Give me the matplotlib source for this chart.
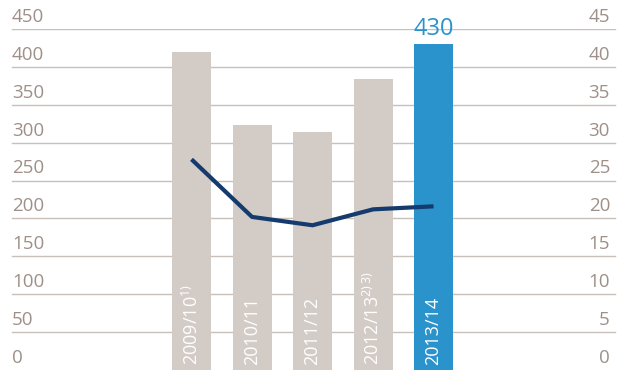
import matplotlib
matplotlib.use("Agg")
import matplotlib.pyplot as plt

plt.rcParams['font.family'] = ['Open Sans', 'DejaVu Sans']
plt.rcParams['mathtext.default'] = 'regular'

# data
years = ["2009/10$^{1)}$", "2010/11", "2011/12", "2012/13$^{2)\\,3)}$", "2013/14"]
bar_values = [420, 323, 314, 384, 430]
line_values = [27.8, 20.2, 19.1, 21.2, 21.6]
left_ticks = [0, 50, 100, 150, 200, 250, 300, 350, 400, 450]
right_ticks = [0, 5, 10, 15, 20, 25, 30, 35, 40, 45]

grey = '#d3cbc6'
blue = '#2a93cc'
navy = '#143a6e'
label_col = '#9e9088'
grid_col = '#c9c0ba'

fig = plt.figure(figsize=(6.26, 3.71), dpi=100)
ax = fig.add_axes([0, 1 / 371, 1, 341 / 371])
ax.set_xlim(-3.165, 7.18)
ax.set_ylim(0, 450)
ax.axis('off')

# gridlines + tick labels on both sides
for v, r in zip(left_ticks, right_ticks):
    if v > 0:
        ax.axhline(v, xmin=12 / 626, xmax=615 / 626, color=grid_col, lw=1, zorder=1)
    ax.text(12 / 626, v + 16, str(v), transform=ax.get_yaxis_transform(),
            ha='left', va='center', fontsize=13.5, color=label_col)
    ax.text(610 / 626, v + 16, str(r), transform=ax.get_yaxis_transform(),
            ha='right', va='center', fontsize=13.5, color=label_col)

x = list(range(len(years)))
colors = [grey] * (len(years) - 1) + [blue]
ax.bar(x, bar_values, width=0.645, color=colors, zorder=2)

for xi, lab in zip(x, years):
    ax.text(xi, 6, lab, rotation=90, ha='center', va='bottom',
            fontsize=13, color='white', zorder=4)

ax.text(x[-1], bar_values[-1] + 4, str(bar_values[-1]), ha='center', va='bottom',
        fontsize=17, color=blue)

ax2 = ax.twinx()
ax2.set_position(ax.get_position())
ax2.set_ylim(0, 45)
ax2.axis('off')
ax2.plot(x, line_values, color=navy, lw=3, zorder=5, solid_capstyle='butt')

fig.savefig('out.png', dpi=100)
